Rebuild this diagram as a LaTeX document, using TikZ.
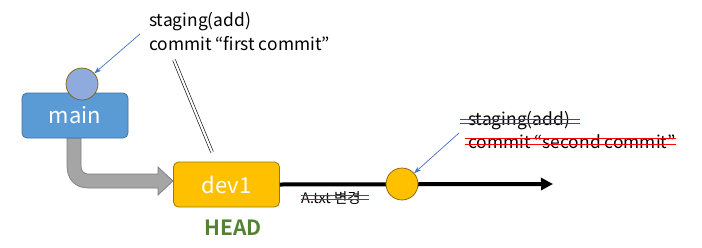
\documentclass[tikz,border=0pt]{standalone}
\usepackage{fontspec}
\setmainfont{Noto Sans CJK KR}[BoldFont={* Bold}]
\newfontfamily\krfont{Noto Sans CJK KR}
\usetikzlibrary{arrows.meta}
\definecolor{mainblue}{HTML}{5B9BD5}
\definecolor{mainblueb}{HTML}{41719C}
\definecolor{circblue}{HTML}{8FAADC}
\definecolor{goldb}{HTML}{7F6000}
\definecolor{devyel}{HTML}{FFC000}
\definecolor{devyelb}{HTML}{9C7800}
\definecolor{arrblue}{HTML}{4472C4}
\definecolor{headgreen}{HTML}{548235}
\definecolor{grayfill}{HTML}{A5A5A5}
\definecolor{grayb}{HTML}{7F7F7F}
\definecolor{strikered}{HTML}{FF0000}
\tikzset{
  branchbox/.style={rectangle, rounded corners=5pt, minimum width=106pt, minimum height=45pt, inner sep=0pt, text=white, font=\fontsize{22}{26}\selectfont, line width=0.8pt},
  commitdot/.style={circle, minimum size=32pt, inner sep=0pt, draw=goldb, line width=0.7pt},
  note/.style={anchor=west, inner sep=0pt, font=\fontsize{17.4}{20}\selectfont},
  callout/.style={draw=arrblue, line width=0.7pt, -{Stealth[length=7pt,width=5pt]}},
  redstrike/.style={draw=strikered, line width=0.6pt},
}
\begin{document}
\begin{tikzpicture}[x=1pt,y=-1pt]
\useasboundingbox (0,0) rectangle (702,247);
% gray bent arrow
\fill[grayfill, draw=grayb, line width=0.7pt]
  (67,138) -- (67,166) .. controls (67,179) and (75,188) .. (88,188)
  -- (158,188) -- (158,195) -- (173,181) -- (158,167) -- (158,174)
  -- (88,174) .. controls (84,174) and (81,171) .. (81,166) -- (81,138) -- cycle;
% nodes
\node[branchbox, fill=mainblue, draw=mainblueb] (main) at (75,115.5) {main};
\node[commitdot, fill=circblue] (c1) at (82,84) {};
\node[branchbox, fill=devyel, draw=devyelb] (dev1) at (226.5,184.5) {dev1};
\node[inner sep=0pt, font=\fontsize{21}{24}\selectfont\bfseries, text=headgreen] (head) at (233,228) {HEAD};
\node[note] (t1a) at (149,22) {staging(add)};
\node[note] (t1b) at (149,44) {commit “first commit”};
% black line
\coordinate (tipend) at (553,184);
\draw[line width=4pt, -{Triangle[length=12pt,width=12pt]}] (dev1.east) -- (tipend);
\node[commitdot, fill=devyel] (c2) at (402,184) {};
% change label
\node[inner sep=0pt, font=\fontsize{14.5}{17}\selectfont] (chg) at (331,198) {A.txt {\krfont 변경}};
\draw[redstrike] ([yshift=-1pt]chg.west) -- ([xshift=8pt,yshift=-1pt]chg.east);
\draw[redstrike] ([yshift=2.5pt]chg.west) -- ([xshift=8pt,yshift=2.5pt]chg.east);
% second commit notes
\node[note] (t2a) at (468,121) {staging(add)};
\node[note] (t2b) at (468,142) {commit “second commit”};
\draw[redstrike] ([xshift=-8pt,yshift=-2pt]t2a.west) -- ([xshift=10pt,yshift=-2pt]t2a.east);
\draw[redstrike] ([xshift=-8pt,yshift=2pt]t2a.west) -- ([xshift=10pt,yshift=2pt]t2a.east);
\draw[redstrike] ([xshift=-3pt,yshift=-2pt]t2b.west) -- ([xshift=0pt,yshift=-2pt]t2b.east);
\draw[redstrike] ([xshift=-3pt,yshift=4pt]t2b.west) -- ([xshift=0pt,yshift=4pt]t2b.east);
% callouts
\coordinate (co1) at (140,34);
\draw[callout] (co1) -- (c1);
\coordinate (co2) at (459,133);
\draw[callout] (co2) -- (c2);
% double line
\coordinate (dl1) at (174,60);
\coordinate (dl2) at (212,152);
\draw[double, double distance=2.2pt, line width=0.6pt] (dl1) -- (dl2);
\end{tikzpicture}
\end{document}
